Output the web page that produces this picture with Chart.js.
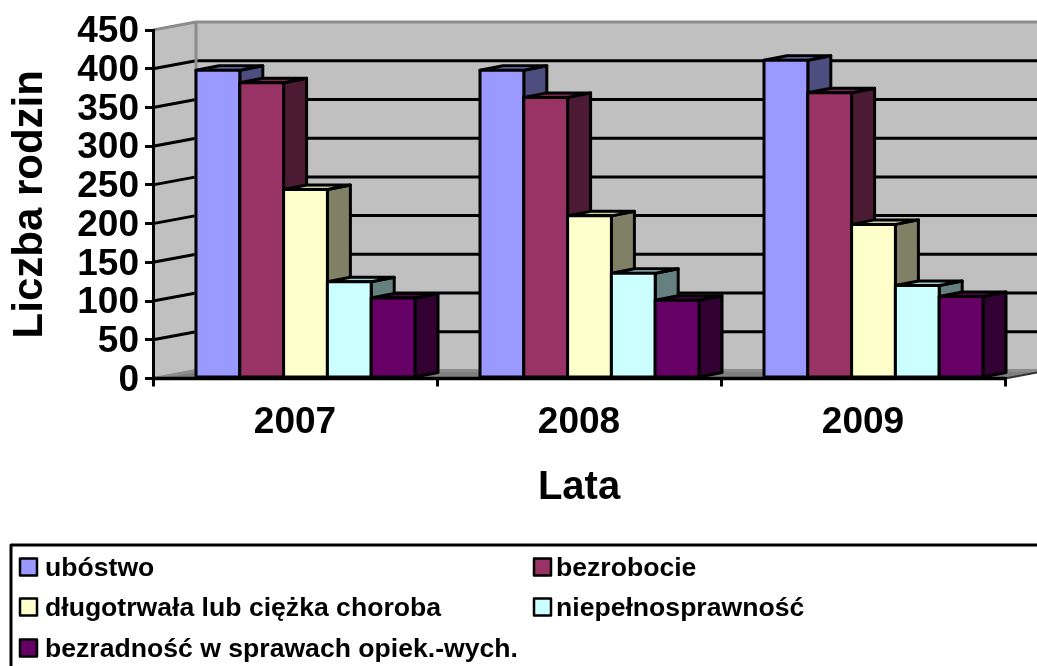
<!DOCTYPE html>
<html>
<head>
<meta charset="utf-8">
<style>
    html, body { margin: 0; padding: 0; background: #fff; overflow: hidden; }
    canvas { display: block; }
</style>
<script src="https://cdn.jsdelivr.net/npm/chart.js@4"></script>
</head>
<body>
<canvas id="chart" width="1037" height="666"></canvas>
<script>
const years = ['2007', '2008', '2009'];
const ubostwo = [398, 398, 411];
const bezrobocie = [382, 363, 369];
const choroba = [244, 210, 199];
const niepelnosprawnosc = [125, 136, 120];
const bezradnosc = [104, 101, 106];

const FONT = '"Liberation Sans", Arial, sans-serif';
const wallDx = 43, wallDy = 8;   // depth of the walls
const barDx = 23, barDy = 4.5;   // depth of one bar
const barShift = 10.5;           // bars sit towards the front-left of the category
const lineW = 3;

const frontColors = ['#9999FF', '#993366', '#FFFFCC', '#CCFFFF', '#660066'];
const sideColors = ['#4D4D80', '#4D1A33', '#808066', '#668080', '#330033'];
const topColors = ['#7A7ACC', '#7A2952', '#CCCCA3', '#A3CCCC', '#520052'];

function poly(ctx, pts, fill, stroke, width) {
    ctx.beginPath();
    pts.forEach((p, i) => i ? ctx.lineTo(p[0], p[1]) : ctx.moveTo(p[0], p[1]));
    ctx.closePath();
    if (fill) {
        ctx.fillStyle = fill;
        ctx.fill();
    }
    if (stroke) {
        ctx.strokeStyle = stroke;
        ctx.lineWidth = width;
        ctx.lineJoin = 'round';
        ctx.stroke();
    }
}

function seg(ctx, x1, y1, x2, y2, color, width) {
    ctx.beginPath();
    ctx.moveTo(x1, y1);
    ctx.lineTo(x2, y2);
    ctx.strokeStyle = color;
    ctx.lineWidth = width;
    ctx.stroke();
}

// back wall, side wall, floor and the gridlines running over them
const wallsPlugin = {
    id: 'walls',
    beforeDraw(chart) {
        const { ctx, chartArea: a, scales } = chart;
        const y = scales.y;
        const topF = y.getPixelForValue(450), botF = y.getPixelForValue(0);
        ctx.save();
        poly(ctx, [[a.left + wallDx, topF - wallDy], [a.right + wallDx, topF - wallDy], [a.right + wallDx, botF - wallDy], [a.left + wallDx, botF - wallDy]], '#C0C0C0');
        poly(ctx, [[a.left, topF], [a.left + wallDx, topF - wallDy], [a.left + wallDx, botF - wallDy], [a.left, botF]], '#C0C0C0');
        poly(ctx, [[a.left, botF], [a.left + wallDx, botF - wallDy], [a.right + wallDx, botF - wallDy], [a.right, botF]], '#808080');

        y.ticks.forEach(t => {
            const py = y.getPixelForValue(t.value);
            const edge = t.value === 0 || t.value === 450;
            const color = edge ? '#8C8C8C' : '#000';
            seg(ctx, a.left, py, a.left + wallDx, py - wallDy, color, lineW);
            seg(ctx, a.left + wallDx, py - wallDy, a.right + wallDx, py - wallDy, color, lineW);
        });
        seg(ctx, a.left + wallDx, topF - wallDy, a.left + wallDx, botF - wallDy, '#8C8C8C', lineW);
        seg(ctx, a.right, botF, a.right + wallDx, botF - wallDy, '#333', 2);
        ctx.restore();
    }
};

// bars are drawn first to last so the later series covers the side of the earlier one
const bars3dPlugin = {
    id: 'bars3d',
    beforeDatasetDraw() {
        return false;
    },
    afterDatasetsDraw(chart) {
        const ctx = chart.ctx;
        ctx.save();
        ctx.translate(barShift, 0);
        chart.data.datasets.forEach((ds, i) => {
            const meta = chart.getDatasetMeta(i);
            meta.data.forEach(bar => {
                const l = bar.x - bar.width / 2, r = bar.x + bar.width / 2;
                poly(ctx, [[r, bar.y], [r + barDx, bar.y - barDy], [r + barDx, bar.base - barDy], [r, bar.base]], sideColors[i], '#000', lineW);
                poly(ctx, [[l, bar.y], [l + barDx, bar.y - barDy], [r + barDx, bar.y - barDy], [r, bar.y]], topColors[i], '#000', lineW);
            });
            meta.controller.draw();
            meta.data.forEach(bar => {
                const l = bar.x - bar.width / 2, r = bar.x + bar.width / 2;
                poly(ctx, [[l, bar.y], [r, bar.y], [r, bar.base], [l, bar.base]], null, '#000', lineW);
            });
        });
        ctx.restore();
        const a = chart.chartArea;
        seg(ctx, a.left, a.bottom, a.right, a.bottom, '#000', 3.5);
    }
};

// two column legend in a box that runs off the page
const boxLegendPlugin = {
    id: 'boxLegend',
    afterDraw(chart) {
        const ctx = chart.ctx;
        const colX = [20, 534];
        const textX = [45, 556];
        const rowY = [567, 607, 648];
        ctx.save();
        poly(ctx, [[11, 545], [1060, 545], [1060, 690], [11, 690]], null, '#000', lineW);
        ctx.font = 'bold 26.6px ' + FONT;
        ctx.textBaseline = 'middle';
        chart.data.datasets.forEach((ds, i) => {
            const x = colX[i % 2], y = rowY[Math.floor(i / 2)];
            poly(ctx, [[x, y - 8.5], [x + 17, y - 8.5], [x + 17, y + 8.5], [x, y + 8.5]], frontColors[i], '#000', 2.5);
            ctx.fillStyle = '#000';
            ctx.fillText(ds.label, textX[i % 2], y + 1.5);
        });
        ctx.restore();
    }
};

const seriesNames = ['ubóstwo', 'bezrobocie', 'długotrwała lub ciężka choroba', 'niepełnosprawność', 'bezradność w sprawach opiek.-wych.'];
const seriesValues = [ubostwo, bezrobocie, choroba, niepelnosprawnosc, bezradnosc];

const datasets = seriesNames.map((name, index) => ({
    label: name,
    data: seriesValues[index],
    backgroundColor: frontColors[index],
    borderWidth: 0,
    categoryPercentage: 219 / 284,
    barPercentage: 1
}));

new Chart(document.getElementById('chart').getContext('2d'), {
    type: 'bar',
    data: { labels: years, datasets: datasets },
    plugins: [wallsPlugin, bars3dPlugin, boxLegendPlugin],
    options: {
        responsive: false,
        animation: false,
        layout: { padding: { top: 30, right: 32, bottom: 0, left: 0 } },
        plugins: {
            legend: { display: false },
            tooltip: { enabled: false }
        },
        scales: {
            x: {
                afterFit: scale => { scale.height = 287.5; },
                grid: { drawOnChartArea: false, color: '#000', lineWidth: lineW, tickLength: 8 },
                border: { color: '#000', width: lineW },
                ticks: { color: '#000', padding: 14, font: { family: FONT, size: 37, weight: 'bold' } },
                title: { display: true, text: 'Lata', color: '#000', padding: { top: 0, bottom: 154 }, font: { family: FONT, size: 40, weight: 'bold' } }
            },
            y: {
                min: 0,
                max: 450,
                afterFit: scale => { scale.width = 153; },
                grid: { drawOnChartArea: false, color: '#000', lineWidth: lineW, tickLength: 8 },
                border: { color: '#000', width: lineW },
                ticks: { stepSize: 50, autoSkip: false, color: '#000', padding: 6, labelOffset: 2, font: { family: FONT, size: 37, weight: 'bold' } },
                title: { display: true, text: 'Liczba rodzin', color: '#000', padding: { top: 5, bottom: 0 }, font: { family: FONT, size: 42, weight: 'bold' } }
            }
        }
    }
});
</script>
</body>
</html>
